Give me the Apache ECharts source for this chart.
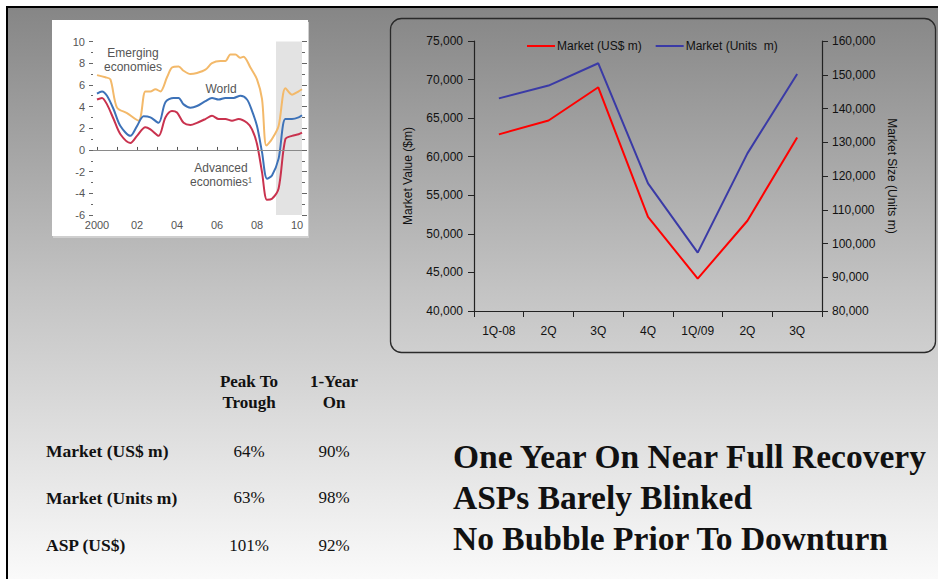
<!DOCTYPE html>
<html>
<head>
<meta charset="utf-8">
<script src="https://cdn.jsdelivr.net/npm/echarts@6/dist/echarts.min.js"></script>
<style>
  html, body { margin: 0; padding: 0; width: 938px; height: 579px; background: #fff; overflow: hidden; }
  #slide { position: absolute; left: 6px; top: 6px; right: 0; bottom: 0;
           border-top: 2px solid #000; border-left: 2px solid #000;
           background: linear-gradient(to bottom, #868686 0%, #c4c4c4 50%, #fafafa 100%); }
  #insetBox { position: absolute; left: 52px; top: 20px; width: 256px; height: 216px;
              background: #fff; box-shadow: 1px 2px 0 #cfcfcf; }
  #chart { position: absolute; left: 0; top: 0; width: 938px; height: 579px; }
</style>
</head>
<body>
<div id="slide"></div>
<div id="insetBox"></div>
<div id="chart"></div>
<script>
// Quarterly market, 1Q-08 .. 3Q-09
const quarters = ['1Q-08', '2Q', '3Q', '4Q', '1Q/09', '2Q', '3Q'];
const marketValue = [62900, 64700, 69000, 52200, 44200, 51700, 62500];       // US$ m
const marketUnits = [143000, 146800, 153400, 117800, 97300, 126700, 150200]; // units m
const valueTicks = { min: 40000, max: 75000, step: 5000 };
const unitTicks = { min: 80000, max: 160000, step: 10000 };

// GDP growth (%), 2000 .. 2010
const emerging = [
  [2000.00, 6.9], [2000.42, 6.7], [2000.67, 6.5], [2001.00, 3.9], [2001.50, 3.4],
  [2002.08, 2.7], [2002.42, 5.4], [2002.67, 5.4], [2002.92, 5.6], [2003.17, 5.4],
  [2003.50, 6.7], [2003.75, 7.6], [2004.08, 7.7], [2004.33, 7.3], [2004.67, 7.0],
  [2005.00, 7.1], [2005.42, 7.4], [2005.75, 8.0], [2006.17, 8.2], [2006.42, 8.2],
  [2006.67, 8.8], [2006.92, 8.8], [2007.17, 8.5], [2007.33, 8.6], [2007.67, 7.6],
  [2008.00, 6.5], [2008.25, 4.7], [2008.47, 0.4], [2008.75, 1.0], [2009.08, 2.2],
  [2009.42, 5.7], [2009.75, 5.1], [2010.08, 5.4], [2010.25, 5.6]
];
const world = [
  [2000.00, 5.2], [2000.25, 5.4], [2000.50, 5.0], [2000.83, 3.75], [2001.17, 2.2],
  [2001.67, 1.3], [2002.00, 2.2], [2002.33, 3.1], [2002.67, 3.0], [2003.08, 2.5],
  [2003.42, 4.4], [2003.83, 4.8], [2004.08, 4.8], [2004.33, 4.2], [2004.67, 3.9],
  [2005.00, 4.05], [2005.42, 4.5], [2005.75, 4.8], [2006.08, 4.65], [2006.42, 4.8],
  [2006.83, 4.8], [2007.17, 5.0], [2007.50, 4.65], [2007.75, 3.6], [2008.00, 2.2],
  [2008.25, -0.2], [2008.50, -2.65], [2008.75, -2.35], [2009.08, -0.8], [2009.42, 2.85],
  [2009.75, 2.85], [2010.08, 3.0], [2010.25, 3.2]
];
const advanced = [
  [2000.00, 4.65], [2000.25, 4.8], [2000.50, 4.2], [2000.83, 2.85], [2001.17, 1.45],
  [2001.67, 0.65], [2002.00, 1.3], [2002.42, 2.1], [2002.67, 1.9], [2003.08, 1.3],
  [2003.42, 3.0], [2003.75, 3.6], [2004.00, 3.45], [2004.33, 2.5], [2004.67, 2.3],
  [2005.00, 2.5], [2005.42, 2.85], [2005.75, 3.15], [2006.08, 2.85], [2006.42, 2.85],
  [2006.75, 2.7], [2007.08, 2.85], [2007.50, 2.5], [2007.75, 1.9], [2008.00, 0.55],
  [2008.25, -2.05], [2008.50, -4.6], [2008.75, -4.5], [2009.08, -3.55], [2009.42, 1.0],
  [2009.75, 1.3], [2010.08, 1.45], [2010.25, 1.6]
];
const projectionStart = 2008.95;
const growthTicks = { min: -6, max: 10, step: 2 };

// Summary table and takeaways
const tableHeaders = [['Peak To', 'Trough'], ['1-Year', 'On']];
const rowLabels = ['Market (US$ m)', 'Market (Units m)', 'ASP (US$)'];
const peakToTrough = ['64%', '63%', '101%'];
const oneYearOn = ['90%', '98%', '92%'];
const statements = ['One Year On Near Full Recovery', 'ASPs Barely Blinked', 'No Bubble Prior To Downturn'];

const SANS = '"Liberation Sans", Arial, sans-serif';
const SERIF = '"Liberation Serif", "Times New Roman", serif';
const fmt = v => v.toLocaleString('en-US');

const chart = echarts.init(document.getElementById('chart'), null, { renderer: 'svg' });

// table and statement text
const graphics = [
  { type: 'rect', shape: { x: 390.5, y: 18.5, width: 545, height: 334, r: 11 },
    style: { fill: 'none', stroke: '#2a2a2a', lineWidth: 1.3 }, silent: true }
];
const colX = [249, 334];
const headY = [381, 402.5];
const rowY = [451, 497.5, 545];
tableHeaders.forEach((lines, c) => lines.forEach((t, i) => graphics.push({
  type: 'text', silent: true,
  style: { text: t, x: colX[c], y: headY[i], align: 'center', textAlign: 'center',
           verticalAlign: 'middle', textVerticalAlign: 'middle',
           font: 'bold 17px ' + SERIF, fill: '#111' }
})));
rowLabels.forEach((t, r) => {
  graphics.push({ type: 'text', silent: true,
    style: { text: t, x: 46, y: rowY[r], align: 'left', textAlign: 'left',
             verticalAlign: 'middle', textVerticalAlign: 'middle',
             font: 'bold 17.5px ' + SERIF, fill: '#111' } });
  [peakToTrough[r], oneYearOn[r]].forEach((v, c) => graphics.push({ type: 'text', silent: true,
    style: { text: v, x: colX[c], y: rowY[r], align: 'center', textAlign: 'center',
             verticalAlign: 'middle', textVerticalAlign: 'middle',
             font: '17px ' + SERIF, fill: '#111' } }));
});
const stmtY = [456, 497.5, 538];
statements.forEach((t, i) => graphics.push({ type: 'text', silent: true,
  style: { text: t, x: 453, y: stmtY[i], align: 'left', textAlign: 'left',
           verticalAlign: 'middle', textVerticalAlign: 'middle',
           font: 'bold 33.5px ' + SERIF, fill: '#111' } }));

const insetLabel = (coord, text) => ({
  coord: coord, symbol: 'circle', symbolSize: 1, itemStyle: { color: 'rgba(0,0,0,0)' },
  label: { show: true, position: 'inside', formatter: text, color: '#555',
           fontFamily: SANS, fontSize: 12, lineHeight: 14, align: 'center' }
});

const option = {
  animation: false,
  backgroundColor: 'transparent',
  textStyle: { fontFamily: SANS },
  graphic: graphics,
  legend: {
    data: ['Market (US$ m)', 'Market (Units  m)'],
    left: 522, top: 35, icon: 'rect', itemWidth: 28, itemHeight: 2, itemGap: 14,
    textStyle: { fontFamily: SANS, fontSize: 12, color: '#111', padding: [0, 0, 0, -3] }
  },
  grid: [
    { left: 474, right: 116, top: 41, bottom: 268 },
    { left: 93, right: 636, top: 41.5, bottom: 364 }
  ],
  xAxis: [
    { type: 'category', gridIndex: 0, data: quarters, boundaryGap: true,
      axisLine: { lineStyle: { color: '#222', width: 1.2 } },
      axisTick: { show: true, length: 6, lineStyle: { color: '#222' } },
      axisLabel: { color: '#111', fontSize: 12, margin: 14, interval: 0 } },
    { type: 'value', gridIndex: 1, min: 1999.8, max: 2010.25, splitNumber: 10,
      splitLine: { show: false },
      axisLine: { lineStyle: { color: '#555', width: 1 } },
      axisTick: { show: true, inside: true, length: 3, lineStyle: { color: '#555' } },
      axisLabel: { color: '#555', fontSize: 11, margin: 4, showMinLabel: false, showMaxLabel: false,
        formatter: v => (Math.abs(v - Math.round(v)) > 1e-6 || Math.round(v) % 2) ? '' :
          (Math.round(v) === 2000 ? '2000' : String(Math.round(v)).slice(2)) } }
  ],
  yAxis: [
    { type: 'value', gridIndex: 0, position: 'left', min: valueTicks.min, max: valueTicks.max,
      interval: valueTicks.step, splitLine: { show: false },
      name: 'Market Value ($m)', nameLocation: 'middle', nameGap: 60,
      nameTextStyle: { color: '#111', fontSize: 12 },
      axisLine: { show: true, lineStyle: { color: '#222', width: 1.2 } },
      axisTick: { show: true, length: 6, lineStyle: { color: '#222' } },
      axisLabel: { color: '#111', fontSize: 12, margin: 11, formatter: fmt } },
    { type: 'value', gridIndex: 0, position: 'right', min: unitTicks.min, max: unitTicks.max,
      interval: unitTicks.step, splitLine: { show: false },
      name: 'Market Size (Units m)', nameLocation: 'middle', nameGap: 64, nameRotate: -90,
      nameTextStyle: { color: '#111', fontSize: 12 },
      axisLine: { show: true, lineStyle: { color: '#222', width: 1.2 } },
      axisTick: { show: true, length: 6, lineStyle: { color: '#222' } },
      axisLabel: { color: '#111', fontSize: 12, margin: 10, formatter: fmt } },
    { type: 'value', gridIndex: 1, position: 'left', min: growthTicks.min, max: growthTicks.max,
      interval: growthTicks.step, splitLine: { show: false },
      axisLine: { show: false },
      axisTick: { show: true, length: 4, lineStyle: { color: '#666' } },
      minorTick: { show: true, splitNumber: 2, length: 2, lineStyle: { color: '#666' } },
      axisLabel: { color: '#555', fontSize: 11, margin: 8 } },
    { type: 'value', gridIndex: 1, position: 'right', min: growthTicks.min, max: growthTicks.max,
      interval: growthTicks.step, splitLine: { show: false },
      axisLine: { show: false },
      axisTick: { show: true, length: 5, lineStyle: { color: '#666' } },
      minorTick: { show: true, splitNumber: 2, length: 3, lineStyle: { color: '#666' } },
      axisLabel: { show: false } }
  ],
  series: [
    { name: 'Market (US$ m)', type: 'line', xAxisIndex: 0, yAxisIndex: 0, data: marketValue,
      symbol: 'none', lineStyle: { color: '#ff0000', width: 2 }, itemStyle: { color: '#ff0000' } },
    { name: 'Market (Units  m)', type: 'line', xAxisIndex: 0, yAxisIndex: 1, data: marketUnits,
      symbol: 'none', lineStyle: { color: '#3a3aa6', width: 2 }, itemStyle: { color: '#3a3aa6' } },
    { name: 'Emerging economies', type: 'line', xAxisIndex: 1, yAxisIndex: 2, data: emerging,
      symbol: 'none', smooth: 0.3, lineStyle: { color: '#f3b96a', width: 2 },
      markArea: { silent: true, itemStyle: { color: '#e3e3e3' },
        data: [[{ xAxis: projectionStart }, { xAxis: 2010.25 }]] },
      markLine: { silent: true, symbol: ['none', 'none'], label: { show: false },
        lineStyle: { color: '#8a8a8a', type: 'solid', width: 1 }, data: [{ yAxis: 0 }] },
      markPoint: { silent: true, data: [insetLabel([2001.8, 8.3], 'Emerging\neconomies')] } },
    { name: 'World', type: 'line', xAxisIndex: 1, yAxisIndex: 2, data: world,
      symbol: 'none', smooth: 0.3, lineStyle: { color: '#3d72b8', width: 2 },
      markPoint: { silent: true, data: [insetLabel([2006.2, 5.6], 'World')] } },
    { name: 'Advanced economies', type: 'line', xAxisIndex: 1, yAxisIndex: 2, data: advanced,
      symbol: 'none', smooth: 0.3, lineStyle: { color: '#c9324e', width: 2 },
      markPoint: { silent: true, data: [insetLabel([2006.2, -2.3], 'Advanced\neconomies\u00b9')] } }
  ]
};
chart.setOption(option);
</script>
</body>
</html>
